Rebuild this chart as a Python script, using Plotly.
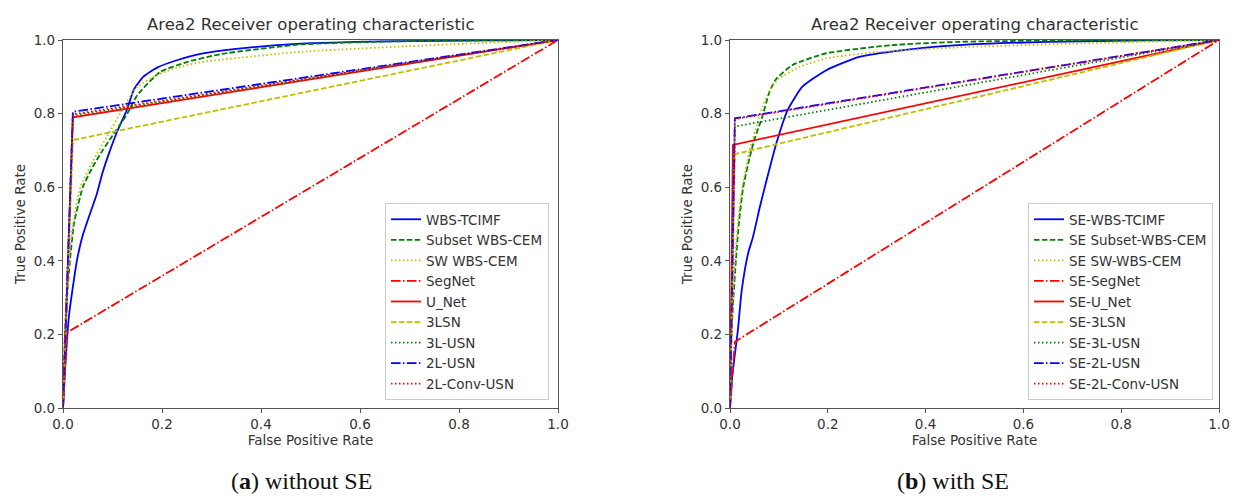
import plotly.graph_objects as go

# ---------------- (a) without SE ----------------
a_names = ["WBS-TCIMF", "Subset WBS-CEM", "SW WBS-CEM", "SegNet", "U_Net",
           "3LSN", "3L-USN", "2L-USN", "2L-Conv-USN"]

a_fpr_wbs_tcimf = [0, 0.004, 0.012, 0.028, 0.04, 0.055, 0.068, 0.08, 0.095, 0.109, 0.129, 0.143,
                   0.162, 0.19, 0.23, 0.28, 0.35, 0.48, 0.65, 0.85, 1.0]
a_tpr_wbs_tcimf = [0, 0.10, 0.25, 0.40, 0.47, 0.53, 0.58, 0.64, 0.70, 0.75, 0.81, 0.865,
                   0.90, 0.925, 0.945, 0.963, 0.976, 0.99, 0.996, 0.999, 1.0]

a_fpr_subset = [0, 0.004, 0.008, 0.014, 0.022, 0.04, 0.06, 0.08, 0.10, 0.13, 0.15, 0.196, 0.25,
                0.32, 0.48, 0.7, 1.0]
a_tpr_subset = [0, 0.20, 0.30, 0.40, 0.50, 0.60, 0.655, 0.70, 0.74, 0.80, 0.85, 0.913, 0.94,
                0.962, 0.988, 0.997, 1.0]

a_fpr_sw = [0, 0.003, 0.007, 0.012, 0.02, 0.035, 0.06, 0.09, 0.115, 0.135, 0.15, 0.19, 0.23,
            0.28, 0.48, 0.68, 0.85, 1.0]
a_tpr_sw = [0, 0.20, 0.30, 0.40, 0.50, 0.60, 0.67, 0.74, 0.80, 0.845, 0.873, 0.905, 0.925,
            0.94, 0.968, 0.982, 0.992, 1.0]

a_fpr_segnet = [0, 0.008, 1.0]
a_tpr_segnet = [0, 0.205, 1.0]
a_fpr_unet = [0, 0.02, 1.0]
a_tpr_unet = [0, 0.79, 1.0]
a_fpr_3lsn = [0, 0.02, 1.0]
a_tpr_3lsn = [0, 0.728, 1.0]
a_fpr_3lusn = [0, 0.02, 1.0]
a_tpr_3lusn = [0, 0.795, 1.0]
a_fpr_2lusn = [0, 0.02, 1.0]
a_tpr_2lusn = [0, 0.805, 1.0]
a_fpr_2lconv = [0, 0.02, 1.0]
a_tpr_2lconv = [0, 0.798, 1.0]

# ---------------- (b) with SE ----------------
b_names = ["SE-WBS-TCIMF", "SE Subset-WBS-CEM", "SE SW-WBS-CEM", "SE-SegNet", "SE-U_Net",
           "SE-3LSN", "SE-3L-USN", "SE-2L-USN", "SE-2L-Conv-USN"]

b_fpr_wbs_tcimf = [0, 0.004, 0.016, 0.024, 0.037, 0.047, 0.061, 0.075, 0.095, 0.118, 0.148,
                   0.197, 0.264, 0.35, 0.467, 0.65, 0.85, 1.0]
b_tpr_wbs_tcimf = [0, 0.08, 0.21, 0.32, 0.42, 0.465, 0.546, 0.62, 0.72, 0.81, 0.873,
                   0.918, 0.954, 0.972, 0.986, 0.995, 0.999, 1.0]

b_fpr_subset = [0, 0.003, 0.007, 0.012, 0.018, 0.027, 0.04, 0.05, 0.065, 0.081, 0.095, 0.128,
                0.197, 0.33, 0.467, 0.7, 1.0]
b_tpr_subset = [0, 0.20, 0.30, 0.40, 0.50, 0.60, 0.68, 0.73, 0.787, 0.86, 0.895, 0.932,
                0.964, 0.986, 0.995, 0.999, 1.0]

b_fpr_sw = [0, 0.003, 0.006, 0.01, 0.016, 0.025, 0.04, 0.055, 0.067, 0.08, 0.10, 0.142,
            0.197, 0.30, 0.467, 0.7, 1.0]
b_tpr_sw = [0, 0.20, 0.30, 0.40, 0.50, 0.60, 0.70, 0.77, 0.82, 0.86, 0.895, 0.927,
            0.95, 0.967, 0.98, 0.99, 1.0]

b_fpr_segnet = [0, 0.01, 1.0]
b_tpr_segnet = [0, 0.18, 1.0]
b_fpr_unet = [0, 0.006, 1.0]
b_tpr_unet = [0, 0.715, 1.0]
b_fpr_3lsn = [0, 0.01, 1.0]
b_tpr_3lsn = [0, 0.69, 1.0]
b_fpr_3lusn = [0, 0.01, 1.0]
b_tpr_3lusn = [0, 0.765, 1.0]
b_fpr_2lusn = [0, 0.01, 1.0]
b_tpr_2lusn = [0, 0.787, 1.0]
b_fpr_2lconv = [0, 0.01, 1.0]
b_tpr_2lconv = [0, 0.785, 1.0]

tick_vals = [0.0, 0.2, 0.4, 0.6, 0.8, 1.0]
tick_text = ["0.0", "0.2", "0.4", "0.6", "0.8", "1.0"]
title_text = "Area2 Receiver operating characteristic"
x_title = "False Positive Rate"
y_title = "True Positive Rate"
caption_a = "(<b>a</b>) without SE"
caption_b = "(<b>b</b>) with SE"

# ---------------- styles ----------------
BLUE, GREEN, YEL, RED = "#0000ff", "#008000", "#bfbf00", "#ff0000"
DASH = "5.5px,2.4px"
DOT = "1.5px,2.5px"
DASHDOT = "9.6px,2.4px,1.5px,2.4px"
styles = [(BLUE, "solid"), (GREEN, DASH), (YEL, DOT), (RED, DASHDOT), (RED, "solid"),
          (YEL, DASH), (GREEN, DOT), (BLUE, DASHDOT), (RED, DOT)]
curved = [True, True, True, False, False, False, False, False, False]

a_data = [(a_fpr_wbs_tcimf, a_tpr_wbs_tcimf), (a_fpr_subset, a_tpr_subset), (a_fpr_sw, a_tpr_sw),
          (a_fpr_segnet, a_tpr_segnet), (a_fpr_unet, a_tpr_unet), (a_fpr_3lsn, a_tpr_3lsn),
          (a_fpr_3lusn, a_tpr_3lusn), (a_fpr_2lusn, a_tpr_2lusn), (a_fpr_2lconv, a_tpr_2lconv)]
b_data = [(b_fpr_wbs_tcimf, b_tpr_wbs_tcimf), (b_fpr_subset, b_tpr_subset), (b_fpr_sw, b_tpr_sw),
          (b_fpr_segnet, b_tpr_segnet), (b_fpr_unet, b_tpr_unet), (b_fpr_3lsn, b_tpr_3lsn),
          (b_fpr_3lusn, b_tpr_3lusn), (b_fpr_2lusn, b_tpr_2lusn), (b_fpr_2lconv, b_tpr_2lconv)]

fig = go.Figure()
for names, data, xa, ya, lg in [(a_names, a_data, "x", "y", "legend"),
                                (b_names, b_data, "x2", "y2", "legend2")]:
    for name, (xs, ys), (col, dash), cv in zip(names, data, styles, curved):
        line = dict(color=col, dash=dash, width=1.8)
        if cv:
            line.update(shape="spline", smoothing=0.5)
        fig.add_trace(go.Scatter(x=xs, y=ys, mode="lines", name=name, xaxis=xa, yaxis=ya,
                                 legend=lg, line=line))

# page body adds an 8px offset; figure sized to fit inside the window
OFF = 8
W, H = 1239 - 2 * OFF, 499 - OFF

def px(x):
    return (x - OFF) / W

def py(y):
    return 1 - (y - OFF) / H

ydom = [py(408), py(40)]
xdom1 = [px(63), px(558)]
xdom2 = [px(730), px(1219)]

TXT = "#333333"
FONT = "DejaVu Sans"

def axis(dom, anchor, title):
    return dict(domain=dom, anchor=anchor, range=[0, 1], tickvals=tick_vals, ticktext=tick_text,
                showline=True, mirror=True, linecolor="#555555", linewidth=1.2,
                ticks="outside", ticklen=4, tickcolor="#555555", tickwidth=1.2,
                showgrid=False, zeroline=False, automargin=False, ticklabeloverflow="allow",
                tickfont=dict(family=FONT, size=13.5, color=TXT),
                title=dict(text=title, font=dict(family=FONT, size=13.5, color=TXT), standoff=4))

legend_common = dict(bgcolor="rgba(255,255,255,0.85)", bordercolor="#cccccc", borderwidth=1,
                     font=dict(family=FONT, size=13.5, color=TXT), xanchor="right", yanchor="bottom",
                     itemwidth=30, tracegroupgap=0)

ann_common = dict(xref="paper", yref="paper", showarrow=False, xanchor="center", yanchor="middle")

fig.update_layout(
    width=W, height=H, margin=dict(l=0, r=0, t=0, b=0),
    paper_bgcolor="white", plot_bgcolor="white",
    xaxis=axis(xdom1, "y", x_title), yaxis=axis(ydom, "x", y_title),
    xaxis2=axis(xdom2, "y2", x_title), yaxis2=axis(ydom, "x2", y_title),
    legend=dict(x=px(549), y=py(400), **legend_common),
    legend2=dict(x=px(1213), y=py(400), **legend_common),
    annotations=[
        dict(text=title_text, x=(xdom1[0] + xdom1[1]) / 2, y=py(25),
             font=dict(family=FONT, size=16.5, color=TXT), **ann_common),
        dict(text=title_text, x=(xdom2[0] + xdom2[1]) / 2, y=py(25),
             font=dict(family=FONT, size=16.5, color=TXT), **ann_common),
        dict(text=caption_a, x=px(301), y=py(481),
             font=dict(family="Liberation Serif", size=24, color="#111111"), **ann_common),
        dict(text=caption_b, x=px(953), y=py(481),
             font=dict(family="Liberation Serif", size=24, color="#111111"), **ann_common),
    ],
)

fig.write_html("out.html")
